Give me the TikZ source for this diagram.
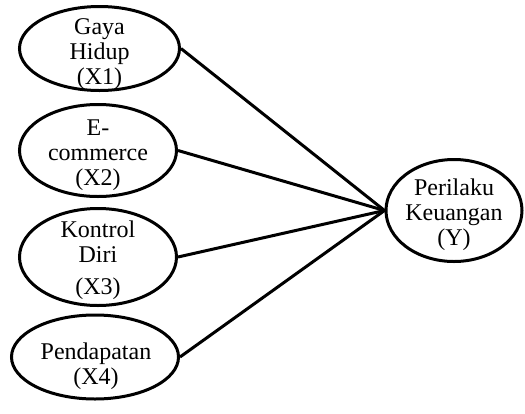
\documentclass[tikz,border=0pt]{standalone}
\usepackage{fontspec}
\setmainfont{Liberation Serif}
\usetikzlibrary{shapes.geometric}

\tikzset{
  variabel/.style={draw, ellipse, line width=3pt, inner sep=0pt},
  teks/.style={align=center, inner sep=0pt, font=\fontsize{24}{25}\selectfont},
  jalur/.style={line width=3pt}
}

\begin{document}
\begin{tikzpicture}[x=1pt,y=-1pt]
        \useasboundingbox (0,0) rectangle (525,413);

        % variabel bebas
        \node[variabel, minimum width=160pt, minimum height=84pt] (x1) at (99.5,48.5) {};
        \node[teks] (tx1) at (99.5,54) {Gaya\\Hidup\\(X1)};
        \node[variabel, minimum width=157pt, minimum height=92pt] (x2) at (98,150.5) {};
        \node[teks] (tx2) at (98,155) {E-\\commerce\\(X2)};
        \node[variabel, minimum width=157pt, minimum height=97pt] (x3) at (98,257) {};
        \node[teks] (tx3) at (98,260) {Kontrol\\Diri\\[7pt](X3)};
        \node[variabel, minimum width=167pt, minimum height=84pt] (x4) at (95,357) {};
        \node[teks] (tx4) at (96,366) {Pendapatan\\(X4)};

        % variabel terikat
        \node[variabel, minimum width=136pt, minimum height=102pt] (y) at (454,210.5) {};
        \node[teks] (ty) at (454,215) {Perilaku\\Keuangan\\(Y)};

        % jalur
        \draw[jalur] (x1.east) -- (y.west);
        \draw[jalur] (x2.east) -- (y.west);
        \draw[jalur] (x3.east) -- (y.west);
        \draw[jalur] (x4.east) -- (y.west);
    \end{tikzpicture}
\end{document}
